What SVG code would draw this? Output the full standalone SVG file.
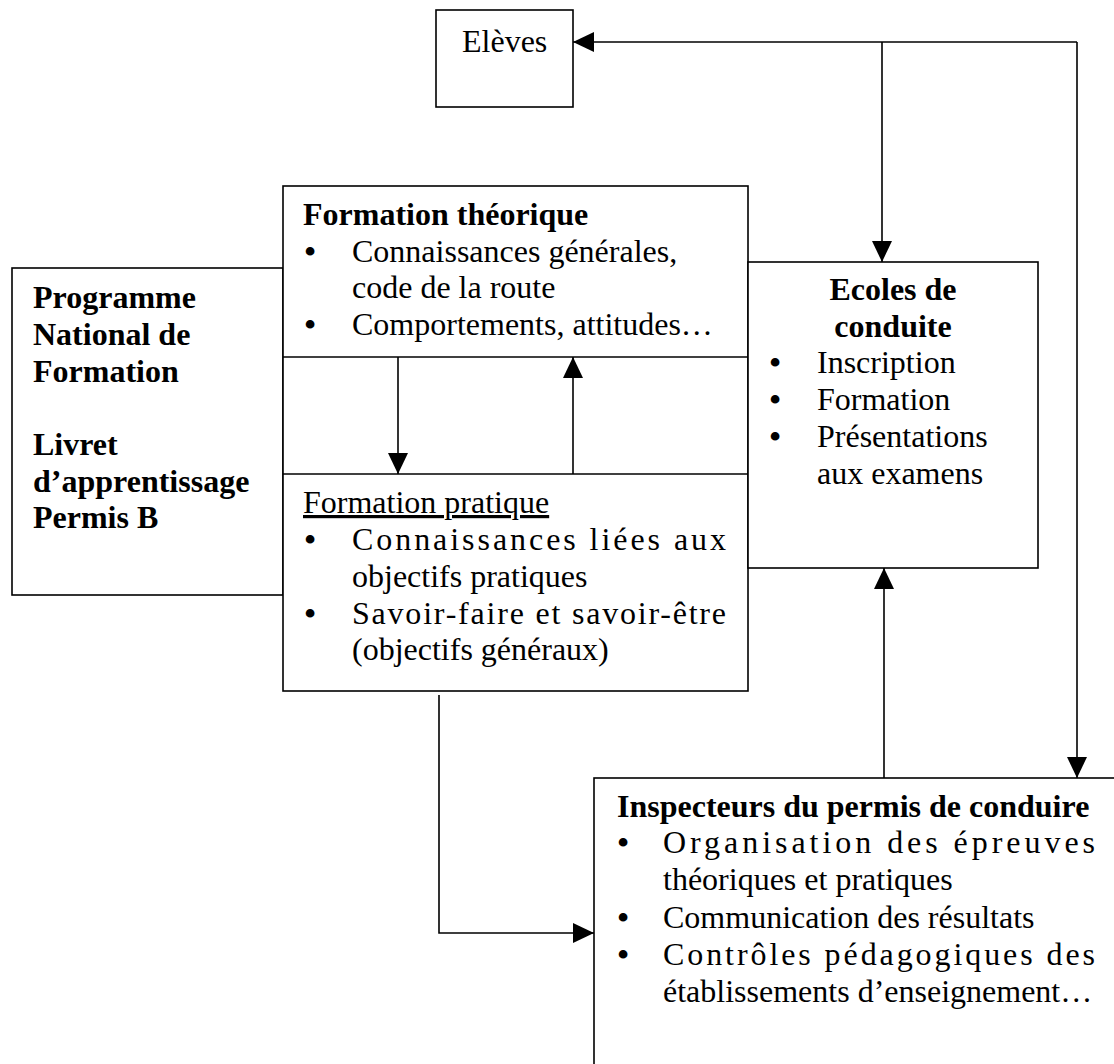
<svg xmlns="http://www.w3.org/2000/svg" width="1114" height="1064" viewBox="0 0 1114 1064">
<style>
.box{fill:#fff;stroke:#000;stroke-width:1.6}
.ln{fill:none;stroke:#000;stroke-width:1.6}
.con{fill:none;stroke:#000;stroke-width:1.6;marker-end:url(#ah)}
text{font-family:"Liberation Serif","Times New Roman",serif;font-size:32px;fill:#000}
.b{font-weight:bold}
.bul{text-anchor:middle;font-weight:bold}
.c{text-anchor:middle}
</style>
<defs>
<marker id="ah" markerUnits="userSpaceOnUse" markerWidth="22" markerHeight="20" refX="21" refY="10" orient="auto">
<path d="M0,0 L21,10 L0,20 z" fill="#000"/>
</marker>
</defs>
<rect width="1114" height="1064" fill="#fff"/>

<g id="programme">
<rect class="box" x="12" y="268" width="271" height="327"/>
<text class="b" x="33" y="308">Programme</text>
<text class="b" x="33" y="345">National de</text>
<text class="b" x="33" y="382">Formation</text>
<text class="b" x="33" y="455">Livret</text>
<text class="b" x="33" y="492">d’apprentissage</text>
<text class="b" x="33" y="528">Permis B</text>
</g>

<g id="formation-column">
<rect class="box" x="283" y="186" width="465" height="505"/>
</g>

<g id="formation-theorique">
<line class="ln" x1="283" y1="357" x2="748" y2="357"/>
<text class="b" x="303" y="225">Formation théorique</text>
<text class="bul" x="310" y="262">•</text>
<text x="352" y="262">Connaissances générales,</text>
<text x="352" y="298">code de la route</text>
<text class="bul" x="310" y="335">•</text>
<text x="352" y="335">Comportements, attitudes…</text>
</g>

<g id="formation-pratique">
<line class="ln" x1="283" y1="474" x2="748" y2="474"/>
<text x="303" y="513" text-decoration="underline">Formation pratique</text>
<text class="bul" x="310" y="550">•</text>
<text x="352" y="550" textLength="374" lengthAdjust="spacing">Connaissances liées aux</text>
<text x="352" y="587">objectifs pratiques</text>
<text class="bul" x="310" y="624">•</text>
<text x="352" y="624" textLength="374" lengthAdjust="spacing">Savoir-faire et savoir-être</text>
<text x="352" y="660">(objectifs généraux)</text>
</g>

<g id="ecoles">
<rect class="box" x="748" y="262" width="290" height="306"/>
<text class="b c" x="893" y="300">Ecoles de</text>
<text class="b c" x="893" y="337">conduite</text>
<text class="bul" x="775" y="373">•</text>
<text x="817" y="373">Inscription</text>
<text class="bul" x="775" y="410">•</text>
<text x="817" y="410">Formation</text>
<text class="bul" x="775" y="447">•</text>
<text x="817" y="447">Présentations</text>
<text x="817" y="484">aux examens</text>
</g>

<g id="eleves">
<rect class="box" x="436" y="10" width="137" height="97"/>
<text x="462" y="52">Elèves</text>
</g>

<g id="inspecteurs">
<rect class="box" x="594" y="778" width="600" height="400"/>
<text class="b" x="617" y="817">Inspecteurs du permis de conduire</text>
<text class="bul" x="623" y="853">•</text>
<text x="663" y="853" textLength="432" lengthAdjust="spacing">Organisation des épreuves</text>
<text x="663" y="890">théoriques et pratiques</text>
<text class="bul" x="623" y="928">•</text>
<text x="663" y="928">Communication des résultats</text>
<text class="bul" x="623" y="965">•</text>
<text x="663" y="965" textLength="432" lengthAdjust="spacing">Contrôles pédagogiques des</text>
<text x="663" y="1002">établissements d’enseignement…</text>
</g>

<g id="connectors">
<path class="con" d="M1077,42 L573,42"/>
<path class="con" d="M1077,42 L1077,778"/>
<path class="con" d="M882,42 L882,262"/>
<path class="con" d="M398,357 L398,474"/>
<path class="con" d="M573,474 L573,357"/>
<path class="con" d="M884,778 L884,568"/>
<path class="con" d="M439,695 L439,933 L594,933"/>
</g>
</svg>
